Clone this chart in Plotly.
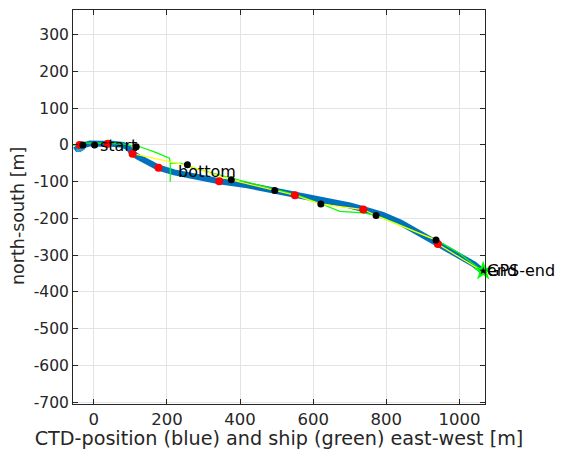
import plotly.graph_objects as go

# CTD track (blue)
ctd_x = [-50, -45, -35, -25, -10, 0, 20, 50, 80, 95, 105, 120, 150, 177, 220, 280, 343, 420, 500, 550, 620, 700, 737, 790, 840, 900, 941, 1000, 1040, 1065]
ctd_y = [-3, -10, -8, 0, 4, 3, 3, 3, 0, -8, -22, -32, -48, -62, -75, -88, -99, -110, -125, -137, -150, -165, -175, -190, -212, -245, -268, -300, -325, -345]

# ship track (green)
ship_x = [-60, -40, -20, 0, 40, 80, 100, 120, 171, 207, 209, 209, 209, 239, 280, 376, 495, 560, 621, 673, 737, 772, 830, 900, 936, 1000, 1065]
ship_y = [-2, 2, 5, 5, 5, 3, -2, -3, -21, -36, -50, -100, -50, -50, -65, -90, -120, -138, -160, -181, -185, -192, -215, -245, -258, -295, -345]

# yellow connector line
yel_x = [106, 256, 376, 495, 550, 621, 737, 772, 936, 941, 1065]
yel_y = [-24, -56, -95, -124, -137, -161, -176, -192, -259, -270, -345]

# red and black markers
red_x = [-39, 38, 106, 177, 343, 550, 737, 941]
red_y = [0, 3, -24, -62, -99, -137, -176, -270]
blk_x = [-30, 2, 116, 256, 376, 495, 621, 772, 936]
blk_y = [0, 0, -5, -54, -95, -124, -161, -192, -259]

# end position
end_x = [1065]
end_y = [-343]

# labels
label_x = [6, 220, 1065, 1065]
label_y = [-3, -72, -343, -343]
label_text = ["start", "bottom", "GPS-end", "end"]

x_ticks = [0, 200, 400, 600, 800, 1000]
x_ticktext = ["0", "200", "400", "600", "800", "1000"]
y_ticks = [-700, -600, -500, -400, -300, -200, -100, 0, 100, 200, 300]
y_ticktext = ["-700", "-600", "-500", "-400", "-300", "-200", "-100", "0", "100", "200", "300"]

fig = go.Figure()
fig.add_trace(go.Scatter(x=ctd_x, y=ctd_y, mode="lines",
                         line=dict(color="#0072BD", width=6), hoverinfo="skip"))
fig.add_trace(go.Scatter(x=[-48, -38, -28], y=[-12, -14, -8], mode="lines",
                         line=dict(color="#1fa3d6", width=4), hoverinfo="skip"))
fig.add_trace(go.Scatter(x=ship_x, y=ship_y, mode="lines",
                         line=dict(color="#00FF00", width=1.2), hoverinfo="skip"))
fig.add_trace(go.Scatter(x=yel_x, y=yel_y, mode="lines",
                         line=dict(color="#FFFF00", width=1.2), hoverinfo="skip"))
fig.add_trace(go.Scatter(x=red_x, y=red_y, mode="markers",
                         marker=dict(color="#FF0000", size=8, line=dict(width=0))))
fig.add_trace(go.Scatter(x=blk_x, y=blk_y, mode="markers",
                         marker=dict(color="#000000", size=7, line=dict(width=0))))
fig.add_trace(go.Scatter(x=end_x, y=end_y, mode="markers", cliponaxis=False,
                         marker=dict(symbol="star", color="#00FF00", size=15, line=dict(width=0))))
fig.add_trace(go.Scatter(x=end_x, y=end_y, mode="markers", cliponaxis=False,
                         marker=dict(symbol="star", color="#000000", size=6, line=dict(width=0))))

for lx, ly, lt in zip(label_x, label_y, label_text):
    fig.add_annotation(x=lx, y=ly, text=lt, showarrow=False, xanchor="left", yanchor="middle",
                       xshift=3, font=dict(family="DejaVu Sans", size=16, color="#000000"),
                       borderpad=0)

# y-axis title as a rotated annotation (sits slightly below the plot centre, as in the reference)
fig.add_annotation(text="north-south [m]", xref="paper", yref="paper", x=-0.1335, y=0.477,
                   textangle=-90, showarrow=False, xanchor="center", yanchor="middle",
                   font=dict(family="DejaVu Sans", size=17.5, color="#262626"))

axis_common = dict(showgrid=True, gridcolor="#e3e3e3", gridwidth=1, zeroline=False,
                   showline=True, linecolor="#262626", linewidth=1, mirror="ticks",
                   ticks="inside", ticklen=5, tickcolor="#262626", automargin=False)

fig.update_xaxes(range=[-57, 1070], tickvals=x_ticks, ticktext=x_ticktext,
                 tickfont=dict(family="DejaVu Sans", size=16.5, color="#262626"),
                 title_text="CTD-position (blue) and ship (green) east-west [m]",
                 title_font=dict(family="DejaVu Sans", size=19.2, color="#262626"),
                 title_standoff=1, **axis_common)
fig.update_yaxes(range=[-705, 367], tickvals=y_ticks, ticktext=y_ticktext,
                 tickfont=dict(family="DejaVu Sans", size=15.5, color="#262626"),
                 **axis_common)

# page body adds an 8px offset, so the figure is sized/margined to compensate
fig.update_layout(width=556, height=442, showlegend=False,
                  margin=dict(l=65, r=79, t=2, b=46),
                  plot_bgcolor="#ffffff", paper_bgcolor="#ffffff")

fig.write_html("out.html")
